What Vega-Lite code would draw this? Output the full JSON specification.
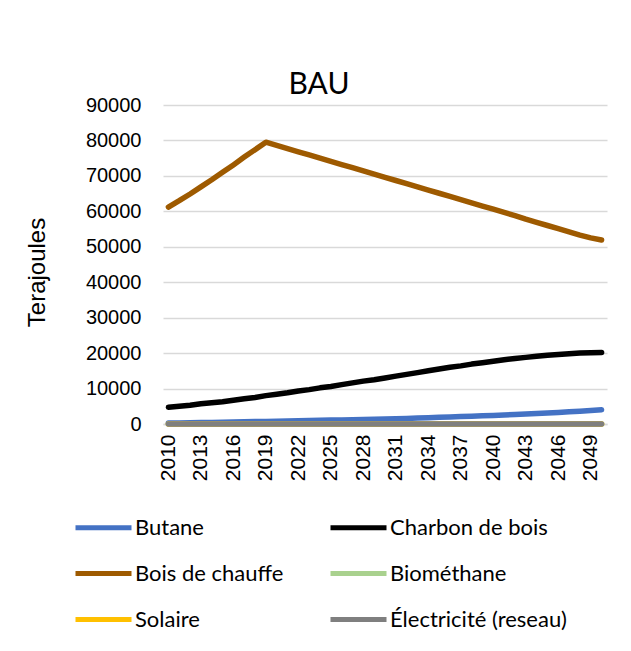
{
  "$schema": "https://vega.github.io/schema/vega-lite/v6.json",
  "width": 444,
  "height": 319,
  "autosize": {"type": "none"},
  "padding": {"left": 163, "top": 105, "right": 24, "bottom": 227},
  "background": "white",
  "title": {"text": "BAU", "font": "Lato", "fontSize": 30, "fontWeight": "normal", "color": "#000000", "anchor": "middle", "dx": -66, "offset": -5},
  "data": {"values": [
    {"year": 2010, "Butane": 250, "Charbon de bois": 4700, "Bois de chauffe": 61200, "Biométhane": 0, "Solaire": 0, "Électricité (reseau)": 0},
    {"year": 2011, "Butane": 300, "Charbon de bois": 5000, "Bois de chauffe": 63000, "Biométhane": 0, "Solaire": 0, "Électricité (reseau)": 0},
    {"year": 2012, "Butane": 350, "Charbon de bois": 5300, "Bois de chauffe": 64900, "Biométhane": 0, "Solaire": 0, "Électricité (reseau)": 0},
    {"year": 2013, "Butane": 400, "Charbon de bois": 5700, "Bois de chauffe": 66900, "Biométhane": 0, "Solaire": 0, "Électricité (reseau)": 0},
    {"year": 2014, "Butane": 450, "Charbon de bois": 6000, "Bois de chauffe": 68900, "Biométhane": 0, "Solaire": 0, "Électricité (reseau)": 0},
    {"year": 2015, "Butane": 500, "Charbon de bois": 6300, "Bois de chauffe": 71000, "Biométhane": 0, "Solaire": 0, "Électricité (reseau)": 0},
    {"year": 2016, "Butane": 560, "Charbon de bois": 6700, "Bois de chauffe": 73100, "Biométhane": 0, "Solaire": 0, "Électricité (reseau)": 0},
    {"year": 2017, "Butane": 620, "Charbon de bois": 7100, "Bois de chauffe": 75300, "Biométhane": 0, "Solaire": 0, "Électricité (reseau)": 0},
    {"year": 2018, "Butane": 680, "Charbon de bois": 7500, "Bois de chauffe": 77400, "Biométhane": 0, "Solaire": 0, "Électricité (reseau)": 0},
    {"year": 2019, "Butane": 740, "Charbon de bois": 8000, "Bois de chauffe": 79500, "Biométhane": 0, "Solaire": 0, "Électricité (reseau)": 0},
    {"year": 2020, "Butane": 800, "Charbon de bois": 8400, "Bois de chauffe": 78600, "Biométhane": 0, "Solaire": 0, "Électricité (reseau)": 0},
    {"year": 2021, "Butane": 860, "Charbon de bois": 8800, "Bois de chauffe": 77700, "Biométhane": 0, "Solaire": 0, "Électricité (reseau)": 0},
    {"year": 2022, "Butane": 920, "Charbon de bois": 9300, "Bois de chauffe": 76800, "Biométhane": 0, "Solaire": 0, "Électricité (reseau)": 0},
    {"year": 2023, "Butane": 980, "Charbon de bois": 9700, "Bois de chauffe": 75900, "Biométhane": 0, "Solaire": 0, "Électricité (reseau)": 0},
    {"year": 2024, "Butane": 1040, "Charbon de bois": 10200, "Bois de chauffe": 75000, "Biométhane": 0, "Solaire": 0, "Électricité (reseau)": 0},
    {"year": 2025, "Butane": 1100, "Charbon de bois": 10600, "Bois de chauffe": 74100, "Biométhane": 0, "Solaire": 0, "Électricité (reseau)": 0},
    {"year": 2026, "Butane": 1160, "Charbon de bois": 11100, "Bois de chauffe": 73200, "Biométhane": 0, "Solaire": 0, "Électricité (reseau)": 0},
    {"year": 2027, "Butane": 1220, "Charbon de bois": 11600, "Bois de chauffe": 72300, "Biométhane": 0, "Solaire": 0, "Électricité (reseau)": 0},
    {"year": 2028, "Butane": 1280, "Charbon de bois": 12100, "Bois de chauffe": 71400, "Biométhane": 0, "Solaire": 0, "Électricité (reseau)": 0},
    {"year": 2029, "Butane": 1340, "Charbon de bois": 12500, "Bois de chauffe": 70500, "Biométhane": 0, "Solaire": 0, "Électricité (reseau)": 0},
    {"year": 2030, "Butane": 1400, "Charbon de bois": 13000, "Bois de chauffe": 69600, "Biométhane": 0, "Solaire": 0, "Électricité (reseau)": 0},
    {"year": 2031, "Butane": 1490, "Charbon de bois": 13500, "Bois de chauffe": 68700, "Biométhane": 0, "Solaire": 0, "Électricité (reseau)": 0},
    {"year": 2032, "Butane": 1580, "Charbon de bois": 14000, "Bois de chauffe": 67800, "Biométhane": 0, "Solaire": 0, "Électricité (reseau)": 0},
    {"year": 2033, "Butane": 1670, "Charbon de bois": 14500, "Bois de chauffe": 66900, "Biométhane": 0, "Solaire": 0, "Électricité (reseau)": 0},
    {"year": 2034, "Butane": 1780, "Charbon de bois": 15000, "Bois de chauffe": 66000, "Biométhane": 0, "Solaire": 0, "Électricité (reseau)": 0},
    {"year": 2035, "Butane": 1900, "Charbon de bois": 15500, "Bois de chauffe": 65100, "Biométhane": 0, "Solaire": 0, "Électricité (reseau)": 0},
    {"year": 2036, "Butane": 2000, "Charbon de bois": 16000, "Bois de chauffe": 64200, "Biométhane": 0, "Solaire": 0, "Électricité (reseau)": 0},
    {"year": 2037, "Butane": 2100, "Charbon de bois": 16400, "Bois de chauffe": 63300, "Biométhane": 0, "Solaire": 0, "Électricité (reseau)": 0},
    {"year": 2038, "Butane": 2200, "Charbon de bois": 16900, "Bois de chauffe": 62400, "Biométhane": 0, "Solaire": 0, "Électricité (reseau)": 0},
    {"year": 2039, "Butane": 2300, "Charbon de bois": 17300, "Bois de chauffe": 61500, "Biométhane": 0, "Solaire": 0, "Électricité (reseau)": 0},
    {"year": 2040, "Butane": 2400, "Charbon de bois": 17700, "Bois de chauffe": 60600, "Biométhane": 0, "Solaire": 0, "Électricité (reseau)": 0},
    {"year": 2041, "Butane": 2530, "Charbon de bois": 18100, "Bois de chauffe": 59700, "Biométhane": 0, "Solaire": 0, "Électricité (reseau)": 0},
    {"year": 2042, "Butane": 2660, "Charbon de bois": 18500, "Bois de chauffe": 58800, "Biométhane": 0, "Solaire": 0, "Électricité (reseau)": 0},
    {"year": 2043, "Butane": 2800, "Charbon de bois": 18800, "Bois de chauffe": 57800, "Biométhane": 0, "Solaire": 0, "Électricité (reseau)": 0},
    {"year": 2044, "Butane": 2950, "Charbon de bois": 19100, "Bois de chauffe": 56900, "Biométhane": 0, "Solaire": 0, "Électricité (reseau)": 0},
    {"year": 2045, "Butane": 3100, "Charbon de bois": 19400, "Bois de chauffe": 56000, "Biométhane": 0, "Solaire": 0, "Électricité (reseau)": 0},
    {"year": 2046, "Butane": 3270, "Charbon de bois": 19600, "Bois de chauffe": 55100, "Biométhane": 0, "Solaire": 0, "Électricité (reseau)": 0},
    {"year": 2047, "Butane": 3440, "Charbon de bois": 19800, "Bois de chauffe": 54200, "Biométhane": 0, "Solaire": 0, "Électricité (reseau)": 0},
    {"year": 2048, "Butane": 3620, "Charbon de bois": 20000, "Bois de chauffe": 53300, "Biométhane": 0, "Solaire": 0, "Électricité (reseau)": 0},
    {"year": 2049, "Butane": 3800, "Charbon de bois": 20100, "Bois de chauffe": 52500, "Biométhane": 0, "Solaire": 0, "Électricité (reseau)": 0},
    {"year": 2050, "Butane": 4000, "Charbon de bois": 20200, "Bois de chauffe": 51900, "Biométhane": 0, "Solaire": 0, "Électricité (reseau)": 0}
  ]},
  "transform": [
    {"fold": ["Butane", "Charbon de bois", "Bois de chauffe", "Biométhane", "Solaire", "Électricité (reseau)"], "as": ["series", "value"]}
  ],
  "mark": {"type": "line", "strokeWidth": 5.5, "strokeCap": "round", "strokeJoin": "round"},
  "encoding": {
    "x": {
      "field": "year", "type": "quantitative",
      "scale": {"domain": [2009.5, 2050.5], "nice": false, "zero": false},
      "axis": {
        "title": null,
        "values": [2010, 2013, 2016, 2019, 2022, 2025, 2028, 2031, 2034, 2037, 2040, 2043, 2046, 2049],
        "format": "d",
        "labelAngle": -90,
        "labelFont": "Liberation Sans",
        "labelFontSize": 21,
        "labelColor": "#000000",
        "labelPadding": 10,
        "ticks": false,
        "grid": false,
        "domain": true,
        "domainColor": "#D9D9D9",
        "domainWidth": 1.5,
        "labelFlush": false,
        "labelOverlap": false
      }
    },
    "y": {
      "field": "value", "type": "quantitative",
      "scale": {"domain": [0, 90000], "nice": false},
      "axis": {
        "title": "Terajoules",
        "titleFont": "Liberation Sans",
        "titleFontSize": 24,
        "titleFontWeight": "normal",
        "titleColor": "#000000",
        "titlePadding": 36,
        "titleY": 167,
        "values": [0, 10000, 20000, 30000, 40000, 50000, 60000, 70000, 80000, 90000],
        "format": "d",
        "labelFont": "Liberation Sans",
        "labelFontSize": 20,
        "labelColor": "#000000",
        "labelPadding": 22,
        "ticks": false,
        "domain": false,
        "grid": true,
        "gridColor": "#D9D9D9",
        "gridWidth": 1.5
      }
    },
    "color": {
      "field": "series", "type": "nominal",
      "scale": {
        "domain": ["Butane", "Charbon de bois", "Bois de chauffe", "Biométhane", "Solaire", "Électricité (reseau)"],
        "range": ["#4472C4", "#000000", "#9E5A00", "#A9D18E", "#FFC000", "#7F7F7F"]
      },
      "legend": {
        "title": null,
        "orient": "none",
        "legendX": -90,
        "legendY": 392,
        "direction": "horizontal",
        "columns": 2,
        "symbolType": "stroke",
        "symbolSize": 3136,
        "symbolStrokeWidth": 5,
        "labelFont": "Lato",
        "labelFontSize": 22,
        "labelColor": "#000000",
        "labelOffset": 1,
        "labelLimit": 400,
        "rowPadding": 4,
        "columnPadding": 36
      }
    }
  },
  "config": {"view": {"stroke": null}}
}
